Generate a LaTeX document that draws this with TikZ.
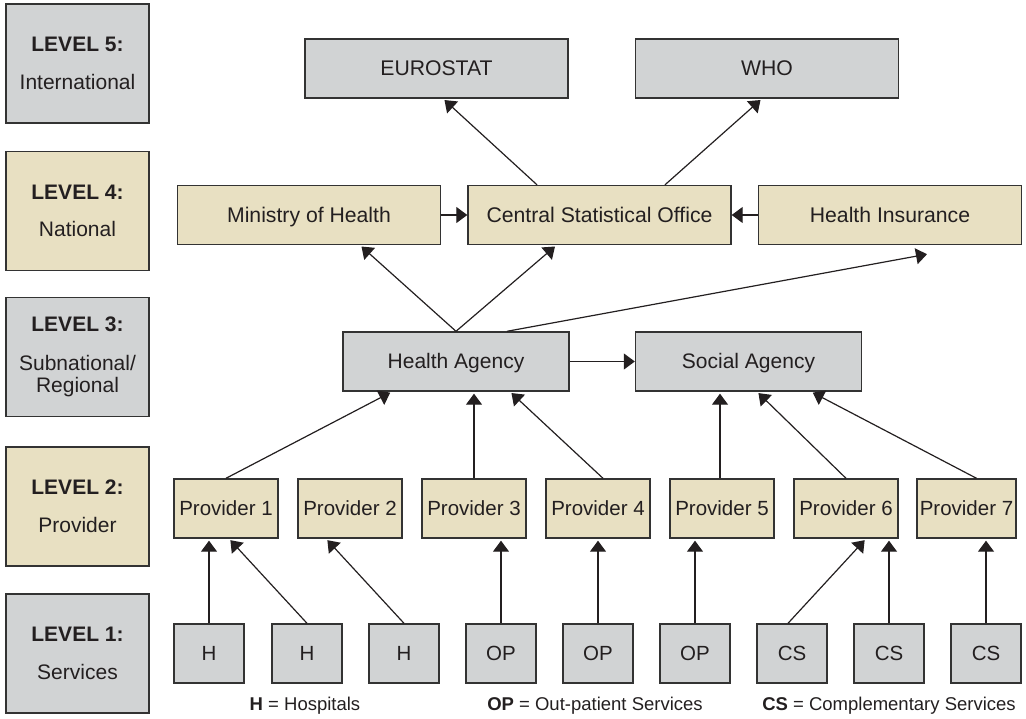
\documentclass[tikz,border=0pt]{standalone}
\usepackage{fontspec}
\setmainfont{Liberation Sans}
\usetikzlibrary{arrows.meta,calc}
\definecolor{boxgrey}{HTML}{D1D3D4}
\definecolor{boxbeige}{HTML}{E8E0C2}
\definecolor{ink}{HTML}{231F20}
\definecolor{edge}{HTML}{333333}
\tikzset{
  base/.style={draw=edge, line width=1.4pt, inner sep=0pt, text=ink,
    font=\fontsize{20.5}{24}\selectfont, align=center},
  gbox/.style={base, fill=boxgrey},
  bbox/.style={base, fill=boxbeige},
  oneline/.style={text height=14.8pt, text depth=0pt},
  lvl/.style={minimum width=143pt, minimum height=119pt, font=\fontsize{21}{24.5}\selectfont},
  wide/.style={oneline, minimum width=263pt, minimum height=59pt, font=\fontsize{21.2}{24}\selectfont},
  agency/.style={oneline, minimum width=226pt, minimum height=59pt, font=\fontsize{21}{24}\selectfont},
  prov/.style={bbox, oneline, minimum width=104pt, minimum height=59pt},
  serv/.style={gbox, oneline, minimum width=70pt, minimum height=59pt},
  conn/.style={draw=ink, line width=1.2pt, -{Triangle[length=11pt,width=16pt]}, shorten >=2pt},
  legend/.style={text=ink, font=\fontsize{18.5}{22}\selectfont, inner sep=0pt}
}
\begin{document}
\begin{tikzpicture}[x=1pt,y=-1pt]
\useasboundingbox (0,0) rectangle (1026,719);
% level boxes
\node[gbox,lvl] (L5) at (77.5,63.5) {\textbf{LEVEL 5:}\\[13pt]International};
\node[bbox,lvl] (L4) at (77.5,211) {\textbf{LEVEL 4:}\\[13pt]National};
\node[gbox,lvl] (L3) at (77.5,357) {\textbf{LEVEL 3:}\\[14pt]Subnational/\\[-2pt]Regional};
\node[bbox,lvl] (L2) at (77.5,506.5) {\textbf{LEVEL 2:}\\[13pt]Provider};
\node[gbox,lvl] (L1) at (77.5,653.5) {\textbf{LEVEL 1:}\\[13pt]Services};
% level 5
\node[gbox,wide] (EU) at (436.5,68.5) {EUROSTAT};
\node[gbox,wide] (WHO) at (767,68.5) {WHO};
% level 4
\node[bbox,wide] (MOH) at (309,215) {Ministry of Health};
\node[bbox,wide] (CSO) at (599.5,215) {Central Statistical Office};
\node[bbox,wide] (HI) at (890,215) {Health Insurance};
% level 3
\node[gbox,agency] (HA) at (456,361.5) {Health Agency};
\node[gbox,agency] (SA) at (748.5,361.5) {Social Agency};
% level 2
\node[prov] (P1) at (226,508.5) {Provider 1};
\node[prov] (P2) at (350,508.5) {Provider 2};
\node[prov] (P3) at (474,508.5) {Provider 3};
\node[prov] (P4) at (598,508.5) {Provider 4};
\node[prov] (P5) at (722,508.5) {Provider 5};
\node[prov] (P6) at (846,508.5) {Provider 6};
\node[prov,minimum width=99pt] (P7) at (966.5,508.5) {Provider 7};
% level 1
\node[serv] (S1) at (209,653.5) {H};
\node[serv] (S2) at (307,653.5) {H};
\node[serv] (S3) at (404,653.5) {H};
\node[serv] (S4) at (501,653.5) {OP};
\node[serv] (S5) at (598,653.5) {OP};
\node[serv] (S6) at (695,653.5) {OP};
\node[serv] (S7) at (792,653.5) {CS};
\node[serv] (S8) at (889,653.5) {CS};
\node[serv] (S9) at (986,653.5) {CS};
% legend
\node[legend] (lgH) at (305,706) {\textbf{H} = Hospitals};
\node[legend] (lgOP) at (595,706) {\textbf{OP} = Out-patient Services};
\node[legend] (lgCS) at (889,706) {\textbf{CS} = Complementary Services};
% connectors level 4 -> 5
\draw[conn] ([xshift=-62.5pt]CSO.north) -- ([xshift=6.5pt]EU.south);
\draw[conn] ([xshift=65.5pt]CSO.north) -- ([xshift=-5pt]WHO.south);
\draw[conn,shorten >=0pt] (MOH.east) -- (CSO.west);
\draw[conn,shorten >=0pt] (HI.west) -- (CSO.east);
% level 3 -> 4
\draw[conn] (HA.north) -- ([xshift=51pt]MOH.south);
\draw[conn] (HA.north) -- ([xshift=-43pt]CSO.south);
\draw[conn,shorten >=0pt] ([xshift=51pt]HA.north) -- ([xshift=37pt,yshift=-9pt]HI.south);
\draw[conn,shorten >=0pt] (HA.east) -- (SA.west);
% level 2 -> 3
\draw[conn] (P1.north) -- ([xshift=-64pt]HA.south);
\draw[conn] (P3.north) -- (P3.north |- HA.south);
\draw[conn] ([xshift=5pt]P4.north) -- ([xshift=54pt]HA.south);
\draw[conn] ([xshift=-2pt]P5.north) -- ([xshift=-2pt]P5.north |- SA.south);
\draw[conn] (P6.north) -- ([xshift=8.5pt]SA.south);
\draw[conn] ([xshift=10pt]P7.north) -- ([xshift=62.5pt]SA.south);
% level 1 -> 2
\draw[conn] (S1.north) -- (S1.north |- P1.south);
\draw[conn] (S2.north) -- ([xshift=3pt]P1.south);
\draw[conn] (S3.north) -- ([xshift=-24pt]P2.south);
\draw[conn] (S4.north) -- (S4.north |- P3.south);
\draw[conn] (S5.north) -- (S5.north |- P4.south);
\draw[conn] (S6.north) -- (S6.north |- P5.south);
\draw[conn] ([xshift=-4pt]S7.north) -- ([xshift=20pt]P6.south);
\draw[conn] (S8.north) -- (S8.north |- P6.south);
\draw[conn] (S9.north) -- (S9.north |- P7.south);
\end{tikzpicture}
\end{document}
